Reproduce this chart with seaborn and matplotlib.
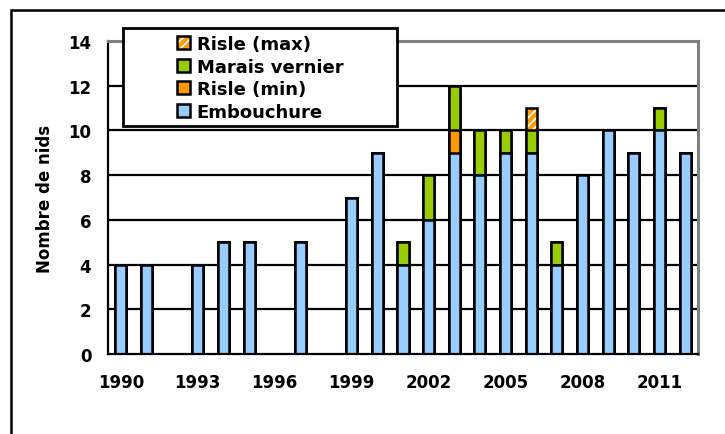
import matplotlib
matplotlib.use("Agg")
import matplotlib.pyplot as plt
import seaborn as sns
import pandas as pd
import numpy as np
from matplotlib.patches import Rectangle, Patch
from matplotlib.legend_handler import HandlerTuple

years = [str(y) for y in range(1990, 2013)]
embouchure = [4, 4, 0, 4, 5, 5, 0, 5, 0, 7, 9, 4, 6, 9, 8, 9, 9, 4, 8, 10, 9, 10, 9]
risle_min = [0, 0, 0, 0, 0, 0, 0, 0, 0, 0, 0, 0, 0, 1, 0, 0, 0, 0, 0, 0, 0, 0, 0]
marais = [0, 0, 0, 0, 0, 0, 0, 0, 0, 0, 0, 1, 2, 2, 2, 1, 1, 1, 0, 0, 0, 1, 0]
risle_max = [0, 0, 0, 0, 0, 0, 0, 0, 0, 0, 0, 0, 0, 0, 0, 0, 1, 0, 0, 0, 0, 0, 0]
year_labels = ["1990", "1993", "1996", "1999", "2002", "2005", "2008", "2011"]

C_BLUE = "#99CCFF"
C_GREEN = "#99CC00"
C_ORANGE = "#FF9900"

sns.set_style("white")
plt.rcParams["font.family"] = ["DejaVu Sans"]
plt.rcParams["font.weight"] = "bold"
plt.rcParams["hatch.linewidth"] = 3.0
for k in ["text.color", "axes.labelcolor", "xtick.color", "ytick.color"]:
    plt.rcParams[k] = "black"

FS = 12
FS_LEG = 13

df = pd.DataFrame({"year": years, "emb": embouchure, "rmin": risle_min,
                   "mar": marais, "rmax": risle_max})
df["c1"] = df["emb"]
df["c2"] = df["c1"] + df["rmin"]
df["c3"] = df["c2"] + df["mar"]
df["c4"] = df["c3"] + df["rmax"]

fig = plt.figure(figsize=(7.25, 4.35), dpi=100)
ax = fig.add_axes([108 / 725, 1 - 355 / 435, (698 - 108) / 725, (355 - 42) / 435])

# outer frame (only left & top visible)
fig.patches.append(Rectangle((11 / 725, -0.1), 1.2, 1 - 11 / 435 + 0.1,
                             transform=fig.transFigure, fill=False,
                             edgecolor="black", linewidth=1.8, zorder=0))

for y in range(2, 14, 2):
    ax.axhline(y, color="black", linewidth=1.6, zorder=0)

w = 0.43
n = len(years)
# Risle (max): white with orange hatching
sns.barplot(data=df, x="year", y="c4", color="white", width=w, ax=ax,
            edgecolor=C_ORANGE, linewidth=0, saturation=1, zorder=2)
for p in ax.patches[:n]:
    p.set_hatch("////")
    p.set_edgecolor(C_ORANGE)
sns.barplot(data=df, x="year", y="c4", fill=False, width=w, ax=ax,
            edgecolor="black", linewidth=1.8, zorder=2.1)
for col, color in [("c3", C_GREEN), ("c2", C_ORANGE), ("c1", C_BLUE)]:
    sns.barplot(data=df, x="year", y=col, color=color, width=w, ax=ax,
                edgecolor="black", linewidth=1.8, saturation=1, zorder=2.2)

ax.set_ylim(0, 14)
ax.set_xlim(-0.5, n - 0.5)
ax.set_yticks(range(0, 15, 2))
ax.set_yticklabels([str(v) for v in range(0, 15, 2)], fontsize=FS, fontweight="bold")
ax.set_xticks(np.arange(-0.5, n, 1.0))
ax.set_xticklabels([])
ax.set_xticks([years.index(y) for y in year_labels], minor=True)
ax.set_xticklabels(year_labels, minor=True, fontsize=FS, fontweight="bold")
ax.tick_params(axis="x", which="major", direction="out", length=5, width=1.6, color="black")
ax.tick_params(axis="x", which="minor", length=0, pad=14)
ax.tick_params(axis="y", direction="inout", length=10, width=1.6, color="black", pad=7)
ax.set_xlabel("")
ax.set_ylabel("Nombre de nids", fontsize=FS, fontweight="bold", labelpad=10)

for s in ["left", "bottom"]:
    ax.spines[s].set_color("black")
    ax.spines[s].set_linewidth(1.6)
for s in ["top", "right"]:
    ax.spines[s].set_color("#808080")
    ax.spines[s].set_linewidth(2.2)
    ax.spines[s].set_visible(True)

# legend frame
fig.patches.append(Rectangle((123 / 725, 1 - 127 / 435), (397 - 123) / 725, (127 - 29) / 435,
                             transform=fig.transFigure, facecolor="white",
                             edgecolor="black", linewidth=2, zorder=5))
h_max = (Patch(facecolor="white", edgecolor=C_ORANGE, hatch="////", linewidth=0),
         Patch(facecolor="none", edgecolor="black", linewidth=1.8))
handles = [
    h_max,
    Patch(facecolor=C_GREEN, edgecolor="black", linewidth=1.8),
    Patch(facecolor=C_ORANGE, edgecolor="black", linewidth=1.8),
    Patch(facecolor=C_BLUE, edgecolor="black", linewidth=1.8),
]
labels = ["Risle (max)", "Marais vernier", "Risle (min)", "Embouchure"]
leg = fig.legend(handles=handles, labels=labels, loc="upper left",
                 bbox_to_anchor=(177 / 725, 1 - 36 / 435), frameon=False,
                 prop={"size": FS_LEG, "weight": "bold"}, handlelength=0.7,
                 handleheight=0.7, handletextpad=0.4, labelspacing=0.25,
                 borderpad=0, borderaxespad=0,
                 handler_map={tuple: HandlerTuple(ndivide=1, pad=0)})
leg.set_zorder(10)

fig.savefig("out.png", dpi=100)
